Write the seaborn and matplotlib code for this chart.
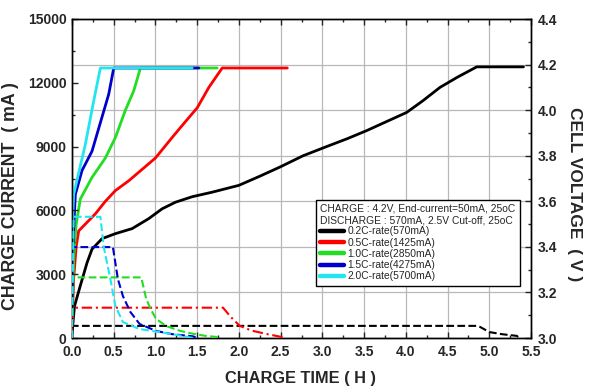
import matplotlib
matplotlib.use("Agg")
import matplotlib.pyplot as plt
import seaborn as sns
from matplotlib.ticker import MultipleLocator
from matplotlib.lines import Line2D

sns.set_theme(style="white")
plt.rcParams['font.family'] = ['Liberation Sans', 'DejaVu Sans']

# ---------------- data ----------------
labels = ["0.2C-rate(570mA)", "0.5C-rate(1425mA)", "1.0C-rate(2850mA)",
          "1.5C-rate(4275mA)", "2.0C-rate(5700mA)"]
colors = ["#000000", "#ff0000", "#22dd22", "#0000cc", "#22e5ee"]

# cell voltage (V) vs charge time (h)
t_v_02 = [0, 0.03, 0.1, 0.18, 0.24, 0.36, 0.52, 0.72, 0.92, 1.08, 1.24, 1.44, 1.68, 2.0,
          2.25, 2.49, 2.77, 3.05, 3.3, 3.53, 3.8, 4.01, 4.2, 4.41, 4.62, 4.85, 5.41]
v_02 = [3.02, 3.14, 3.23, 3.33, 3.39, 3.436, 3.458, 3.48, 3.524, 3.567, 3.596, 3.62, 3.64, 3.67,
        3.71, 3.75, 3.80, 3.84, 3.875, 3.91, 3.955, 3.99, 4.04, 4.10, 4.145, 4.19, 4.19]

t_v_05 = [0, 0.02, 0.05, 0.08, 0.16, 0.28, 0.40, 0.52, 0.68, 0.84, 1.0, 1.20, 1.36, 1.50, 1.64, 1.80, 2.58]
v_05 = [3.05, 3.26, 3.40, 3.47, 3.50, 3.545, 3.60, 3.647, 3.69, 3.74, 3.79, 3.88, 3.95, 4.01, 4.10, 4.185, 4.185]

t_v_10 = [0, 0.02, 0.05, 0.10, 0.24, 0.40, 0.52, 0.64, 0.74, 0.82, 1.74]
v_10 = [3.08, 3.35, 3.50, 3.61, 3.705, 3.79, 3.88, 4.0, 4.085, 4.185, 4.185]

t_v_15 = [0, 0.01, 0.04, 0.12, 0.24, 0.36, 0.44, 0.50, 1.52]
v_15 = [3.14, 3.40, 3.63, 3.735, 3.82, 3.97, 4.07, 4.185, 4.185]

t_v_20 = [0, 0.01, 0.02, 0.16, 0.26, 0.34, 1.44]
v_20 = [3.25, 3.55, 3.63, 3.85, 4.04, 4.185, 4.185]

# charge current (mA) vs charge time (h)
t_i_02 = [0, 0, 4.85, 4.89, 5.0, 5.15, 5.33, 5.36]
i_02 = [0, 570, 570, 520, 280, 180, 100, 0]

t_i_05 = [0, 0, 1.81, 1.90, 2.01, 2.15, 2.33, 2.51, 2.55]
i_05 = [0, 1425, 1425, 1000, 570, 350, 190, 50, 0]

t_i_10 = [0, 0, 0.83, 0.89, 0.95, 1.01, 1.13, 1.30, 1.45, 1.60, 1.73, 1.75]
i_10 = [0, 2850, 2850, 1830, 1300, 890, 560, 330, 200, 100, 50, 0]

t_i_15 = [0, 0, 0.49, 0.55, 0.61, 0.70, 0.81, 1.01, 1.20, 1.45, 1.50]
i_15 = [0, 4275, 4275, 2770, 1970, 1220, 660, 330, 180, 80, 0]

t_i_20 = [0, 0.02, 0.34, 0.38, 0.46, 0.52, 0.61, 0.81, 1.05, 1.25, 1.41, 1.45]
i_20 = [0, 5700, 5700, 4300, 2770, 1500, 750, 420, 280, 150, 30, 0]

volt_t = [t_v_02, t_v_05, t_v_10, t_v_15, t_v_20]
volt_v = [v_02, v_05, v_10, v_15, v_20]
curr_t = [t_i_02, t_i_05, t_i_10, t_i_15, t_i_20]
curr_i = [i_02, i_05, i_10, i_15, i_20]
curr_styles = ["--", (0, (5, 1.8, 1, 1.8)), "--", "--", "--"]

legend_title = "CHARGE : 4.2V, End-current=50mA, 25oC\nDISCHARGE : 570mA, 2.5V Cut-off, 25oC"

# ---------------- figure ----------------
fig = plt.figure(figsize=(5.95, 3.92), dpi=100)
fig.patch.set_facecolor("white")
ax = fig.add_axes([72 / 595, 1 - 338 / 392, (531 - 72) / 595, (338 - 19) / 392])
ax2 = ax.twinx()
ax.set_zorder(ax2.get_zorder() + 1)
ax.patch.set_visible(False)
ax2.patch.set_visible(True)
ax2.patch.set_facecolor("white")

# voltage curves on the right axis (behind)
for t, v, c in zip(volt_t, volt_v, colors):
    sns.lineplot(x=t, y=v, ax=ax2, color=c, linewidth=2.0, estimator=None,
                 sort=False, legend=False, zorder=3)

# current curves on left axis (front)
for t, i, c, ls in zip(curr_t, curr_i, colors, curr_styles):
    sns.lineplot(x=t, y=i, ax=ax, color=c, linewidth=1.5, estimator=None,
                 sort=False, legend=False, linestyle=ls, zorder=3)

ax.xaxis.set_major_locator(MultipleLocator(0.5))
ax.xaxis.set_minor_locator(MultipleLocator(0.25))
ax.yaxis.set_major_locator(MultipleLocator(3000))
ax.yaxis.set_minor_locator(MultipleLocator(1500))
ax2.yaxis.set_major_locator(MultipleLocator(0.2))
ax2.yaxis.set_minor_locator(MultipleLocator(0.1))

# grid drawn on the back axes
ax2.xaxis.set_visible(True)
ax2.tick_params(axis='x', which='both', bottom=False, top=False,
                labelbottom=False, labeltop=False)
ax2.set_axisbelow(True)
ax2.grid(True, axis='both', which='major', color="#b8b8b8", linewidth=0.9)
ax.grid(False)

tick_font = dict(labelsize=10)
ax.tick_params(axis='both', which='major', direction='in', length=4, width=1,
               top=True, bottom=True, left=True, right=False, pad=4, **tick_font)
ax.tick_params(axis='x', which='major', pad=5)
ax.tick_params(axis='both', which='minor', direction='in', length=2, width=1,
               top=True, bottom=True, left=True, right=False)
ax2.tick_params(axis='y', which='major', direction='in', length=4, width=1,
                right=True, left=False, pad=5, **tick_font)
ax2.tick_params(axis='y', which='minor', direction='in', length=2, width=1,
                right=True, left=False)
for a in (ax, ax2):
    for s in a.spines.values():
        s.set_color("black")
        s.set_linewidth(1.0)
ax.set_xlim(0, 5.5)
ax.set_ylim(0, 15000)
ax2.set_ylim(3.0, 4.4)
ax.set_xticks(ax.get_xticks())
ax.set_xticklabels([f"{x:.1f}" for x in ax.get_xticks()], fontweight='bold')
ax.set_yticks(ax.get_yticks())
ax.set_yticklabels([f"{int(y)}" for y in ax.get_yticks()], fontweight='bold')
ax2.set_yticks(ax2.get_yticks())
ax2.set_yticklabels([f"{y:.1f}" for y in ax2.get_yticks()], fontweight='bold')
ax.set_xlim(0, 5.5)
ax.set_ylim(0, 15000)
ax2.set_ylim(3.0, 4.4)

ax.set_xlabel("CHARGE TIME ( H )", fontsize=11.8, fontweight='bold')
ax.xaxis.set_label_coords(0.497, -0.103)
ax.set_ylabel("CHARGE CURRENT  ( mA )", fontsize=12.8, fontweight='bold', va='center')
ax.yaxis.set_label_coords(-0.135, 0.445)
ax2.set_ylabel("CELL VOLTAGE  ( V )", fontsize=12.5, fontweight='bold',
               rotation=-90, va='center')
ax2.yaxis.set_label_coords(1.095, 0.45)

handles = [Line2D([], [], color=c, linewidth=3.2) for c in colors]
leg = ax.legend(handles, labels, title=legend_title, loc='upper left',
                bbox_to_anchor=(0.532, 0.434), fontsize=7.4, title_fontsize=7.4,
                frameon=True, fancybox=False, edgecolor='black', framealpha=1,
                handlelength=2.3, handletextpad=0.35, labelspacing=0.12,
                borderpad=0.4, alignment='left', borderaxespad=0)
leg.get_frame().set_linewidth(1.0)

fig.savefig("out.png", dpi=100, facecolor="white")
